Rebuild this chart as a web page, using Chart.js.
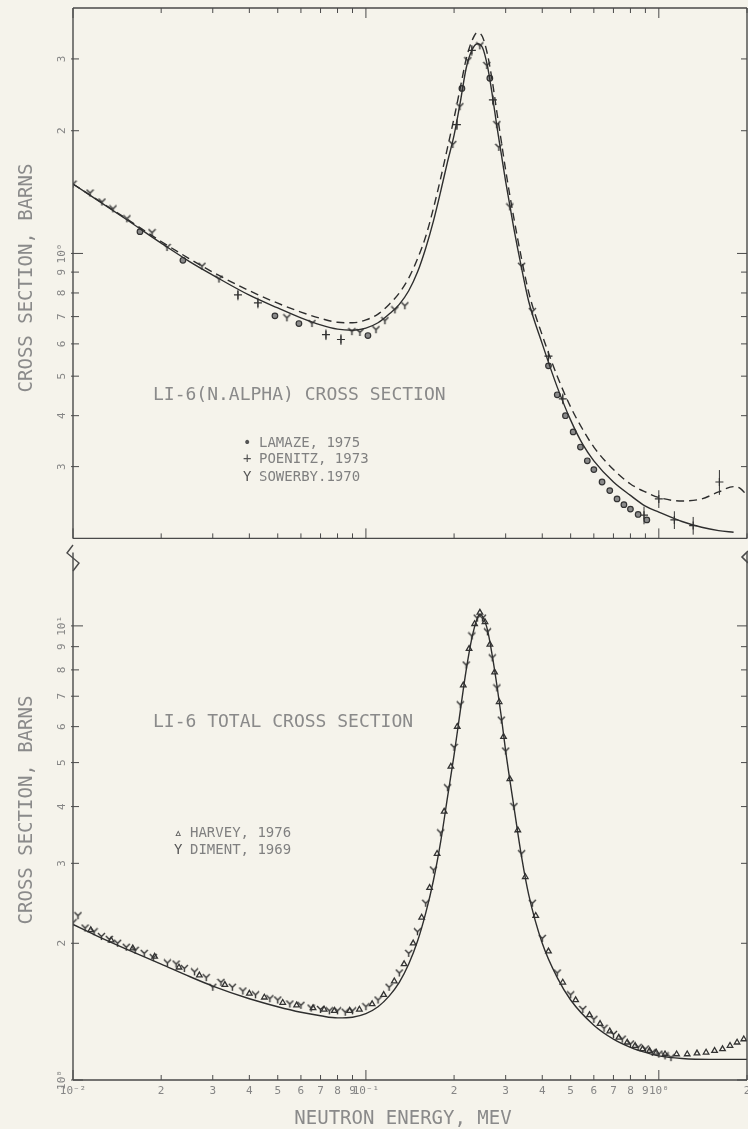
<!DOCTYPE html>
<html>
<head>
<meta charset="utf-8">
<script src="https://cdn.jsdelivr.net/npm/chart.js@4.4.0/dist/chart.umd.min.js"></script>
<style>
  body { margin: 0; background: #f5f3eb; }
  #wrap { position: relative; width: 748px; height: 1129px; overflow: hidden; background: #f5f3eb;
          font-family: 'DejaVu Sans Mono', monospace; color: #8a8a8a; }
  canvas { position: absolute; left: 0; }
  svg { position: absolute; left: 0; top: 0; }
  .txt { position: absolute; white-space: pre; line-height: 1; }
  .vt { transform: translate(-50%, -50%) rotate(-90deg); font-size: 19px; }
  .lg { font-size: 14px; color: #808080; }
  .mk { display: inline-block; width: 16px; color: #555; }
</style>
</head>
<body>
<div id="wrap">
  <canvas id="top-chart" width="760" height="546" style="top:0"></canvas>
  <canvas id="bottom-chart" width="760" height="584" style="top:545px"></canvas>
  <svg width="748" height="1129">
    <polyline points="73,545 67,553 79,563 73,571" fill="none" stroke="#4a4a4a" stroke-width="1.4"/>
    <polyline points="748,551 742,557 748,563" fill="none" stroke="#4a4a4a" stroke-width="1.6"/>
  </svg>

  <div class="txt vt" style="left:25px; top:278px">CROSS SECTION, BARNS</div>
  <div class="txt vt" style="left:25px; top:810px">CROSS SECTION, BARNS</div>

  <div class="txt" style="left:153px; top:385px; font-size:18px">LI-6(N.ALPHA) CROSS SECTION</div>
  <div class="txt lg" style="left:243px; top:435px"><span class="mk">•</span>LAMAZE, 1975</div>
  <div class="txt lg" style="left:243px; top:451px"><span class="mk">+</span>POENITZ, 1973</div>
  <div class="txt lg" style="left:243px; top:469px"><span class="mk">Y</span>SOWERBY.1970</div>

  <div class="txt" style="left:153px; top:712px; font-size:18px">LI-6 TOTAL CROSS SECTION</div>
  <div class="txt lg" style="left:174px; top:825px"><span class="mk">▵</span>HARVEY, 1976</div>
  <div class="txt lg" style="left:174px; top:842px"><span class="mk">Y</span>DIMENT, 1969</div>

  <div class="txt" style="left:403px; top:1108px; font-size:19px; transform:translateX(-50%)">NEUTRON ENERGY, MEV</div>
</div>

<script>
// axes
const xTickValues = [0.01, 0.02, 0.03, 0.04, 0.05, 0.06, 0.07, 0.08, 0.09, 0.1, 0.2, 0.3, 0.4, 0.5, 0.6, 0.7, 0.8, 0.9, 1, 2];
const xTickLabels = ['10⁻²', '2', '3', '4', '5', '6', '7', '8', '9', '10⁻¹', '2', '3', '4', '5', '6', '7', '8', '9', '10⁰', '2'];
const topYTickValues = [3, 2, 1, 0.9, 0.8, 0.7, 0.6, 0.5, 0.4, 0.3];
const topYTickLabels = ['3', '2', '10⁰', '9', '8', '7', '6', '5', '4', '3'];
const botYTickValues = [10, 9, 8, 7, 6, 5, 4, 3, 2, 1];
const botYTickLabels = ['10¹', '9', '8', '7', '6', '5', '4', '3', '2', '10⁰'];

// Li-6(n,alpha): evaluation (solid) and alternative (dashed)
const alphaE = [0.01, 0.015, 0.02, 0.025, 0.03, 0.04, 0.05, 0.06, 0.07, 0.08, 0.09, 0.1, 0.11, 0.12, 0.13, 0.14, 0.15, 0.16, 0.17, 0.18, 0.19, 0.2, 0.21, 0.22, 0.23, 0.24, 0.25, 0.26, 0.27, 0.28, 0.29, 0.3, 0.32, 0.34, 0.36, 0.4, 0.45, 0.5, 0.55, 0.6, 0.7, 0.8, 0.9, 1.0, 1.2, 1.4, 1.6, 1.8];
const alphaXS = [1.48, 1.22, 1.06, 0.955, 0.885, 0.79, 0.735, 0.695, 0.668, 0.652, 0.648, 0.656, 0.676, 0.71, 0.75, 0.81, 0.9, 1.03, 1.2, 1.42, 1.68, 1.95, 2.35, 2.85, 3.15, 3.27, 3.2, 2.88, 2.45, 2.05, 1.75, 1.5, 1.15, 0.92, 0.76, 0.6, 0.47, 0.39, 0.34, 0.31, 0.275, 0.255, 0.24, 0.232, 0.22, 0.213, 0.209, 0.207];
const alphaAltE = [0.01, 0.015, 0.02, 0.025, 0.03, 0.04, 0.05, 0.06, 0.07, 0.08, 0.09, 0.1, 0.11, 0.12, 0.13, 0.14, 0.15, 0.16, 0.17, 0.18, 0.19, 0.2, 0.21, 0.22, 0.23, 0.24, 0.25, 0.26, 0.27, 0.28, 0.29, 0.3, 0.32, 0.34, 0.36, 0.4, 0.45, 0.5, 0.55, 0.6, 0.7, 0.8, 0.9, 1.0, 1.2, 1.4, 1.6, 1.8, 1.9, 2.0];
const alphaAltXS = [1.48, 1.225, 1.07, 0.97, 0.9, 0.81, 0.755, 0.718, 0.693, 0.678, 0.676, 0.687, 0.71, 0.75, 0.8, 0.87, 0.97, 1.1, 1.29, 1.53, 1.82, 2.15, 2.55, 3.0, 3.32, 3.48, 3.4, 3.08, 2.65, 2.22, 1.88, 1.6, 1.22, 0.97, 0.8, 0.63, 0.5, 0.42, 0.37, 0.335, 0.295, 0.272, 0.26, 0.252, 0.247, 0.25, 0.26, 0.268, 0.265, 0.255];

const lamazeE = [0.01693, 0.02373, 0.04891, 0.05906, 0.1016, 0.2127, 0.2649, 0.42, 0.45, 0.48, 0.51, 0.54, 0.57, 0.6, 0.64, 0.68, 0.72, 0.76, 0.8, 0.85, 0.91];
const lamazeXS = [1.131, 0.962, 0.703, 0.673, 0.629, 2.54, 2.69, 0.53, 0.45, 0.40, 0.365, 0.335, 0.31, 0.295, 0.275, 0.262, 0.25, 0.242, 0.236, 0.229, 0.222];
const poenitzE = [0.03657, 0.04279, 0.07305, 0.08219, 0.2045, 0.23, 0.2713, 0.42, 0.47, 0.89, 1.0, 1.13, 1.31, 1.61];
const poenitzXS = [0.791, 0.756, 0.632, 0.615, 2.07, 3.15, 2.38, 0.56, 0.44, 0.228, 0.25, 0.222, 0.215, 0.275];
const poenitzErr = [0.03, 0.03, 0.03, 0.03, 0.03, 0.03, 0.03, 0.03, 0.03, 0.05, 0.05, 0.05, 0.05, 0.07];
const sowerbyE = [0.01, 0.01143, 0.01256, 0.01369, 0.01528, 0.01861, 0.02094, 0.02756, 0.0315, 0.05375, 0.06543, 0.08958, 0.09539, 0.1082, 0.1161, 0.1256, 0.1358, 0.198, 0.2093, 0.2228, 0.2449, 0.2588, 0.2799, 0.2844, 0.31, 0.34, 0.37];
const sowerbyXS = [1.479, 1.406, 1.337, 1.286, 1.216, 1.124, 1.034, 0.93, 0.865, 0.695, 0.673, 0.643, 0.64, 0.65, 0.684, 0.727, 0.744, 1.85, 2.29, 2.97, 3.23, 2.89, 2.07, 1.82, 1.3, 0.93, 0.72];

// Li-6 total
const totalE = [0.01, 0.012, 0.015, 0.02, 0.025, 0.03, 0.04, 0.05, 0.06, 0.07, 0.08, 0.09, 0.1, 0.11, 0.12, 0.13, 0.14, 0.15, 0.16, 0.17, 0.18, 0.19, 0.2, 0.21, 0.22, 0.23, 0.24, 0.245, 0.25, 0.26, 0.27, 0.28, 0.29, 0.3, 0.32, 0.34, 0.36, 0.4, 0.45, 0.5, 0.6, 0.7, 0.8, 0.9, 1.0, 1.2, 1.5, 2.0];
const totalXS = [2.2, 2.08, 1.95, 1.8, 1.69, 1.61, 1.51, 1.45, 1.41, 1.385, 1.37, 1.375, 1.4, 1.45, 1.53, 1.64, 1.8, 2.02, 2.33, 2.75, 3.35, 4.2, 5.2, 6.5, 8.0, 9.4, 10.4, 10.6, 10.5, 9.8, 8.6, 7.4, 6.3, 5.3, 4.0, 3.1, 2.55, 2.0, 1.68, 1.5, 1.32, 1.23, 1.18, 1.15, 1.13, 1.115, 1.11, 1.11];

const harveyE = [0.0115, 0.0135, 0.016, 0.019, 0.023, 0.027, 0.033, 0.04, 0.045, 0.052, 0.058, 0.066, 0.072, 0.078, 0.088, 0.095, 0.105, 0.115, 0.125, 0.135, 0.145, 0.155, 0.165, 0.175, 0.185, 0.195, 0.205, 0.215, 0.225, 0.235, 0.245, 0.255, 0.265, 0.275, 0.285, 0.295, 0.31, 0.33, 0.35, 0.38, 0.42, 0.47, 0.52, 0.58, 0.63, 0.68, 0.73, 0.78, 0.83, 0.88, 0.93, 0.98, 1.05, 1.15, 1.25, 1.35, 1.45, 1.55, 1.65, 1.75, 1.85, 1.95];
const harveyXS = [2.14, 2.03, 1.95, 1.87, 1.77, 1.7, 1.62, 1.55, 1.52, 1.48, 1.46, 1.44, 1.43, 1.42, 1.42, 1.43, 1.47, 1.54, 1.65, 1.8, 2.0, 2.28, 2.65, 3.15, 3.9, 4.9, 6.0, 7.4, 8.9, 10.1, 10.7, 10.2, 9.1, 7.9, 6.8, 5.7, 4.6, 3.55, 2.8, 2.3, 1.92, 1.64, 1.5, 1.39, 1.33, 1.28, 1.24, 1.21, 1.19, 1.17, 1.16, 1.15, 1.14, 1.14, 1.14, 1.145, 1.15, 1.16, 1.17, 1.19, 1.21, 1.23];
const dimentE = [0.01, 0.0104, 0.011, 0.0118, 0.0125, 0.0133, 0.0142, 0.0152, 0.0163, 0.0175, 0.0188, 0.021, 0.0225, 0.024, 0.026, 0.0285, 0.03, 0.032, 0.035, 0.038, 0.042, 0.047, 0.05, 0.055, 0.06, 0.065, 0.07, 0.075, 0.08, 0.085, 0.09, 0.1, 0.11, 0.12, 0.13, 0.14, 0.15, 0.16, 0.17, 0.18, 0.19, 0.2, 0.21, 0.22, 0.23, 0.24, 0.25, 0.26, 0.27, 0.28, 0.29, 0.3, 0.32, 0.34, 0.37, 0.4, 0.45, 0.5, 0.55, 0.6, 0.65, 0.7, 0.75, 0.8, 0.85, 0.9, 0.95, 1.0, 1.05, 1.1];
const dimentXS = [2.22, 2.3, 2.16, 2.12, 2.07, 2.04, 2.0, 1.96, 1.93, 1.9, 1.86, 1.81, 1.8, 1.76, 1.73, 1.68, 1.6, 1.64, 1.6, 1.57, 1.54, 1.51, 1.5, 1.47, 1.46, 1.44, 1.43, 1.42, 1.42, 1.41, 1.42, 1.45, 1.5, 1.6, 1.72, 1.9, 2.12, 2.45, 2.9, 3.5, 4.4, 5.4, 6.7, 8.2, 9.5, 10.4, 10.4, 9.7, 8.5, 7.3, 6.2, 5.3, 4.0, 3.15, 2.45, 2.05, 1.72, 1.54, 1.43, 1.36, 1.3, 1.26, 1.23, 1.2, 1.18, 1.17, 1.15, 1.14, 1.13, 1.12];

const textColor = '#858585';
const lineColor = '#2e2e2e';
const axisColor = '#4a4a4a';
const fontFamily = "'DejaVu Sans Mono', monospace";

const zip = (xs, ys) => xs.map((x, i) => ({ x: x, y: ys[i] }));

function makeY(size) {
  const c = document.createElement('canvas');
  c.width = size; c.height = size;
  const g = c.getContext('2d');
  const m = size / 2;
  g.strokeStyle = '#333';
  g.lineWidth = 1.4;
  g.beginPath();
  g.moveTo(1, 1); g.lineTo(m, m); g.lineTo(size - 1, 1);
  g.moveTo(m, m); g.lineTo(m, size - 1);
  g.stroke();
  return c;
}
const yMarker = makeY(9);

const isDecade = v => Math.abs(Math.log10(v) - Math.round(Math.log10(v))) < 1e-6;

// frame with inward ticks on every side
const frameTicks = {
  id: 'frameTicks',
  afterDraw(chart, args, opts) {
    const { ctx, chartArea: a, scales } = chart;
    ctx.save();
    ctx.strokeStyle = axisColor;
    ctx.lineWidth = 1.4;
    ctx.beginPath();
    ctx.moveTo(a.left, a.bottom); ctx.lineTo(a.right, a.bottom);
    ctx.moveTo(a.left, a.bottom); ctx.lineTo(a.left, a.top);
    ctx.moveTo(a.right, a.bottom); ctx.lineTo(a.right, a.top);
    if (opts.top) { ctx.moveTo(a.left, a.top); ctx.lineTo(a.right, a.top); }
    ctx.stroke();
    ctx.lineWidth = 1;
    scales.x.ticks.forEach(t => {
      const px = scales.x.getPixelForValue(t.value);
      const len = isDecade(t.value) ? 10 : 5;
      ctx.beginPath();
      ctx.moveTo(px, a.bottom); ctx.lineTo(px, a.bottom - len);
      if (opts.top) { ctx.moveTo(px, a.top); ctx.lineTo(px, a.top + len); }
      ctx.stroke();
    });
    scales.y.ticks.forEach(t => {
      const py = scales.y.getPixelForValue(t.value);
      const len = isDecade(t.value) ? 10 : 6;
      ctx.beginPath();
      ctx.moveTo(a.left - 2, py); ctx.lineTo(a.left + len, py);
      ctx.moveTo(a.right, py); ctx.lineTo(a.right - len, py);
      ctx.stroke();
    });
    ctx.restore();
  }
};

// vertical error bars for datasets that carry an errors array
const errorBars = {
  id: 'errorBars',
  afterDatasetsDraw(chart) {
    const { ctx, scales: { y } } = chart;
    chart.data.datasets.forEach((ds, i) => {
      if (!ds.errors) return;
      const meta = chart.getDatasetMeta(i);
      ctx.save();
      ctx.strokeStyle = '#333';
      ctx.lineWidth = 1;
      meta.data.forEach((pt, j) => {
        const v = ds.data[j].y, e = ds.errors[j];
        ctx.beginPath();
        ctx.moveTo(pt.x, y.getPixelForValue(v * (1 + e)));
        ctx.lineTo(pt.x, y.getPixelForValue(v * (1 - e)));
        ctx.stroke();
      });
      ctx.restore();
    });
  }
};

function xScale(showLabels, height) {
  return {
    type: 'logarithmic', min: 0.01, max: 2,
    afterBuildTicks: s => { s.ticks = xTickValues.map(v => ({ value: v })); },
    afterFit: s => { s.height = height; },
    ticks: {
      display: showLabels, autoSkip: false, maxRotation: 0, minRotation: 0, padding: 5,
      color: textColor, font: { family: fontFamily, size: 11 },
      callback: (v, i) => xTickLabels[i]
    },
    grid: { display: false, drawTicks: false },
    border: { display: false }
  };
}

function yScale(min, max, values, labels) {
  return {
    type: 'logarithmic', min: min, max: max,
    afterBuildTicks: s => { s.ticks = values.map(v => ({ value: v })); },
    afterFit: s => { s.width = 73; },
    ticks: {
      autoSkip: false, minRotation: 90, maxRotation: 90, crossAlign: 'center', padding: 1,
      color: textColor, font: { family: fontFamily, size: 11 },
      callback: (v, i) => labels[i]
    },
    grid: { display: false, drawTicks: false },
    border: { display: false }
  };
}

const curve = (data, dash) => ({
  type: 'line', data: data, borderColor: lineColor, borderWidth: 1.4, borderDash: dash,
  pointRadius: 0, fill: false, cubicInterpolationMode: 'monotone'
});
const markers = (data, style, radius, extra) => Object.assign({
  type: 'scatter', data: data, pointStyle: style, pointRadius: radius,
  borderColor: '#333', backgroundColor: '#555', borderWidth: 1.2
}, extra || {});

new Chart(document.getElementById('top-chart'), {
  type: 'scatter',
  data: {
    datasets: [
      curve(zip(alphaE, alphaXS), []),
      curve(zip(alphaAltE, alphaAltXS), [8, 5]),
      markers(zip(lamazeE, lamazeXS), 'circle', 2.8, { backgroundColor: '#8a8a8a' }),
      markers(zip(poenitzE, poenitzXS), 'cross', 4, { errors: poenitzErr }),
      markers(zip(sowerbyE, sowerbyXS), yMarker, 4)
    ]
  },
  options: {
    responsive: false, animation: false,
    layout: { padding: { top: 8, right: 13, left: 0, bottom: 0 } },
    plugins: { legend: { display: false }, tooltip: { enabled: false }, frameTicks: { top: true } },
    scales: {
      x: xScale(false, 1),
      y: yScale(0.2, 4, topYTickValues, topYTickLabels)
    }
  },
  plugins: [frameTicks, errorBars]
});

new Chart(document.getElementById('bottom-chart'), {
  type: 'scatter',
  data: {
    datasets: [
      curve(zip(totalE, totalXS), []),
      markers(zip(harveyE, harveyXS), 'triangle', 3.2, { backgroundColor: 'rgba(0,0,0,0)', borderWidth: 1.3 }),
      markers(zip(dimentE, dimentXS), yMarker, 4)
    ]
  },
  options: {
    responsive: false, animation: false,
    layout: { padding: { top: 0, right: 13, left: 0, bottom: 0 } },
    plugins: { legend: { display: false }, tooltip: { enabled: false }, frameTicks: { top: false } },
    scales: {
      x: xScale(true, 49),
      y: yScale(1, 14.5, botYTickValues, botYTickLabels)
    }
  },
  plugins: [frameTicks, errorBars]
});
</script>
</body>
</html>
